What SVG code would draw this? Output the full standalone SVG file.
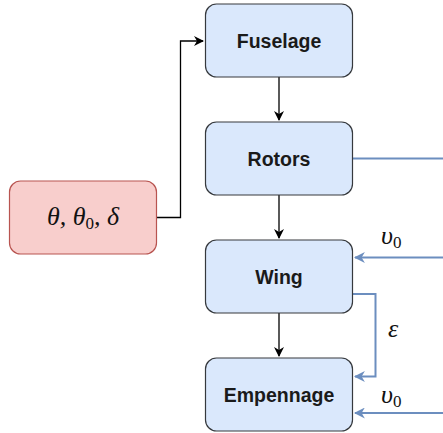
<svg xmlns="http://www.w3.org/2000/svg" width="443" height="433" viewBox="0 0 443 433">
  <defs>
    <marker id="arrBlack" viewBox="0 0 10 10" refX="9" refY="5" markerWidth="10" markerHeight="10" markerUnits="userSpaceOnUse" orient="auto">
      <path d="M0,0 L10,5 L0,10 L3,5 Z" fill="#000"/>
    </marker>
    <marker id="arrBlue" viewBox="0 0 10 10" refX="9" refY="5" markerWidth="11" markerHeight="11" markerUnits="userSpaceOnUse" orient="auto">
      <path d="M0,0 L10,5 L0,10 L3,5 Z" fill="#6c8ebf"/>
    </marker>
    <style>
      .blk { fill: #dae8fc; stroke: #36393d; stroke-width: 1.2; }
      .inp { fill: #f8cecc; stroke: #b85450; stroke-width: 1.2; }
      .lbl { font-family: "Liberation Sans", Arial, sans-serif; font-weight: bold; font-size: 19.5px; fill: #1a1a1a; text-anchor: middle; }
      .math { font-family: "Liberation Serif", "Times New Roman", serif; font-style: italic; font-size: 26px; fill: #111; }
      .sub { font-style: normal; font-size: 17px; }
      .wk { fill: none; stroke: #000; stroke-width: 1.3; }
      .wb { fill: none; stroke: #6c8ebf; stroke-width: 2; }
    </style>
  </defs>

  <g id="connectors">
    <path class="wk" d="M156.5,217.5 H180.5 V41 H203" marker-end="url(#arrBlack)"/>
    <path class="wk" d="M279,77 V120" marker-end="url(#arrBlack)"/>
    <path class="wk" d="M279,195 V238" marker-end="url(#arrBlack)"/>
    <path class="wk" d="M279,313 V356" marker-end="url(#arrBlack)"/>
    <path class="wb" d="M353,158.5 H443"/>
    <path class="wb" d="M443,257.5 H355" marker-end="url(#arrBlue)"/>
    <path class="wb" d="M353,294 H375.5 V376.5 H355" marker-end="url(#arrBlue)"/>
    <path class="wb" d="M443,413 H355" marker-end="url(#arrBlue)"/>
    <text class="math" x="381" y="243.5">υ<tspan class="sub" dy="4">0</tspan></text>
    <text class="math" x="388" y="337">ε</text>
    <text class="math" x="381" y="402.5">υ<tspan class="sub" dy="4">0</tspan></text>
  </g>

  <g id="input">
    <rect class="inp" x="9.5" y="181" width="147" height="73" rx="11"/>
    <text class="math" x="83" y="225" text-anchor="middle">θ, θ<tspan class="sub" dy="4">0</tspan><tspan dy="-4">, δ</tspan></text>
  </g>

  <g id="fuselage">
    <rect class="blk" x="205.5" y="4" width="147" height="73" rx="11"/>
    <text class="lbl" x="279" y="48">Fuselage</text>
  </g>

  <g id="rotors">
    <rect class="blk" x="205.5" y="122" width="147" height="73" rx="11"/>
    <text class="lbl" x="279" y="166">Rotors</text>
  </g>

  <g id="wing">
    <rect class="blk" x="205.5" y="240" width="147" height="73" rx="11"/>
    <text class="lbl" x="279" y="284">Wing</text>
  </g>

  <g id="empennage">
    <rect class="blk" x="205.5" y="358" width="147" height="73" rx="11"/>
    <text class="lbl" x="279" y="402">Empennage</text>
  </g>
</svg>
